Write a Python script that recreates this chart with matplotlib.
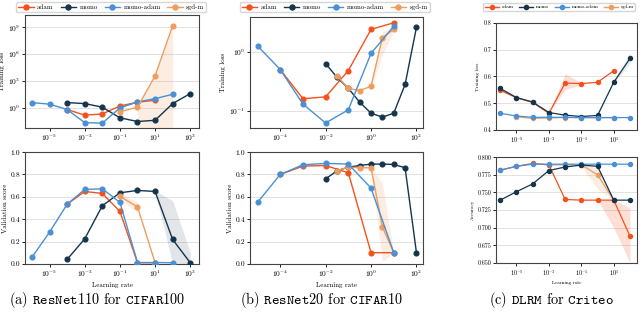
import numpy as np
import matplotlib
matplotlib.use("Agg")
import matplotlib.pyplot as plt
from matplotlib.lines import Line2D

plt.rcParams['font.family'] = 'cmr10'
plt.rcParams['mathtext.fontset'] = 'cm'
plt.rcParams['axes.formatter.use_mathtext'] = True

# colours per method
colors = {'adam': '#F4511E', 'momo': '#15354C', 'momo-adam': '#4A90D6', 'sgd-m': '#EE9D5E'}
methods = ['adam', 'momo', 'momo-adam', 'sgd-m']

# ---------------- (a) ResNet110 / CIFAR100 ----------------
a_lr_adam = [1e-4, 1e-3, 1e-2, 1e-1, 1, 10]
a_loss_adam = [0.6, 0.14, 0.19, 1.5, 4.0, 6.6]
a_val_adam = [0.534, 0.648, 0.63, 0.47, 0.01, 0.01]

a_lr_momo = [1e-4, 1e-3, 1e-2, 1e-1, 1, 10, 100, 1000]
a_loss_momo = [3.6, 2.8, 1.1, 0.07, 0.027, 0.037, 2.8, 37]
a_val_momo = [0.04, 0.224, 0.52, 0.636, 0.657, 0.648, 0.218, 0.01]

a_lr_madam = [1e-6, 1e-5, 1e-4, 1e-3, 1e-2, 1e-1, 1, 10, 100]
a_loss_madam = [3.6, 2.4, 0.6, 0.02, 0.018, 0.9, 4.3, 10, 31]
a_val_madam = [0.06, 0.284, 0.534, 0.666, 0.672, 0.55, 0.012, 0.012, 0.01]

a_lr_sgdm = [1e-1, 1, 10, 100]
a_loss_sgdm = [0.33, 1.1, 3600, 1.6e9]
a_val_sgdm = [0.603, 0.51, 0.01, np.nan]

# shaded spreads (a)
a_sh_loss_sgdm_x = [1, 10, 100]
a_sh_loss_sgdm_lo = [1e-3, 1e-3, 1e-3]
a_sh_loss_sgdm_hi = [1.1, 3600, 1.6e9]
a_sh_val_sgdm_x = [1e-1, 1]
a_sh_val_sgdm_lo = [0.57, 0.46]
a_sh_val_sgdm_hi = [0.63, 0.55]
a_sh_val_momo_x = [10, 100, 1000]
a_sh_val_momo_lo = [0.645, 0.0, 0.0]
a_sh_val_momo_hi = [0.655, 0.565, 0.1]

# ---------------- (b) ResNet20 / CIFAR10 ----------------
b_lr_adam = [1e-4, 1e-3, 1e-2, 1e-1, 1, 10]
b_loss_adam = [0.5, 0.16, 0.172, 0.48, 2.4, 3.1]
b_val_adam = [0.8, 0.875, 0.88, 0.815, 0.1, 0.1]

b_lr_momo = [0.01, 0.0316, 0.1, 0.316, 1, 3.16, 10, 31.6, 100]
b_loss_momo = [0.63, 0.37, 0.24, 0.14, 0.091, 0.078, 0.091, 0.28, 2.6]
b_val_momo = [0.76, 0.833, 0.866, 0.88, 0.893, 0.893, 0.89, 0.86, 0.1]

b_lr_madam = [1e-5, 1e-4, 1e-3, 1e-2, 1e-1, 1, 10]
b_loss_madam = [1.26, 0.5, 0.13, 0.062, 0.104, 0.94, 2.7]
b_val_madam = [0.55, 0.8, 0.887, 0.899, 0.893, 0.678, 0.1]

b_lr_sgdm = [0.0316, 0.1, 0.316, 1, 3.16, 10]
b_loss_sgdm = [0.39, 0.24, 0.22, 0.26, 1.74, 2.4]
b_val_sgdm = [0.833, 0.866, 0.86, 0.86, 0.33, 0.1]

b_sh_loss_sgdm_x = [1, 3.16, 10]
b_sh_loss_sgdm_lo = [0.24, 0.9, 2.2]
b_sh_loss_sgdm_hi = [0.3, 2.2, 2.6]
b_sh_val_sgdm_x = [1, 3.16, 10]
b_sh_val_sgdm_lo = [0.84, 0.02, 0.1]
b_sh_val_sgdm_hi = [0.87, 0.72, 0.1]

# ---------------- (c) DLRM / Criteo ----------------
c_lr = [1e-6, 1e-5, 1e-4, 1e-3, 1e-2, 1e-1, 1, 10, 100]
c_loss_adam = [0.548, 0.52, 0.503, 0.462, 0.575, 0.573, 0.578, 0.621, np.nan]
c_val_adam = [0.7815, 0.787, 0.791, 0.789, 0.740, 0.739, 0.739, 0.739, 0.688]
c_loss_momo = [0.555, 0.521, 0.504, 0.465, 0.455, 0.45, 0.454, 0.578, 0.667]
c_val_momo = [0.739, 0.751, 0.762, 0.781, 0.786, 0.7887, 0.787, 0.739, 0.739]
c_loss_madam = [0.462, 0.452, 0.447, 0.447, 0.447, 0.446, 0.446, 0.446, 0.446]
c_val_madam = [0.7815, 0.787, 0.79, 0.79, 0.79, 0.79, 0.79, 0.79, 0.79]
c_loss_sgdm = [np.nan, 0.449, 0.443, 0.445, 0.446, 0.446, 0.446, 0.446, np.nan]
c_val_sgdm = [np.nan, np.nan, np.nan, 0.789, 0.789, 0.789, 0.775, 0.739, np.nan]

c_sh_loss_adam_x = [1e-3, 1e-2, 1e-1]
c_sh_loss_adam_lo = [0.462, 0.55, 0.57]
c_sh_loss_adam_hi = [0.462, 0.61, 0.576]
c_sh_loss_momo_x = [10, 100]
c_sh_loss_momo_lo = [0.575, 0.65]
c_sh_loss_momo_hi = [0.58, 0.69]
c_sh_val_adam_x = [1, 10, 100]
c_sh_val_adam_lo = [0.739, 0.70, 0.65]
c_sh_val_adam_hi = [0.739, 0.74, 0.728]
c_sh_val_sgdm_x = [1e-1, 1, 10]
c_sh_val_sgdm_lo = [0.787, 0.755, 0.739]
c_sh_val_sgdm_hi = [0.79, 0.785, 0.739]

fig = plt.figure(figsize=(6.4, 3.13), dpi=100)


def style(ax, fs_tick):
    ax.set_xscale('log')
    ax.grid(True, axis='y', color='#dddddd', lw=0.6)
    ax.set_axisbelow(True)
    for s in ax.spines.values():
        s.set_color('#444444')
        s.set_linewidth(0.8)
    ax.tick_params(labelsize=fs_tick, length=2, width=0.6, pad=1.5)
    ax.minorticks_off()


def draw(ax, series, ms=3.4, lw=1.0):
    for name, x, y in series:
        ax.plot(x, y, color=colors[name], marker='o', ms=ms, lw=lw, zorder=3)


def shade(ax, x, lo, hi, name, alpha=0.18):
    ax.fill_between(x, lo, hi, color=colors[name], alpha=alpha, lw=0, zorder=1)


def add_legend(cx, cy, fs, ms, hl, cs):
    handles = [Line2D([], [], color=colors[m], marker='o', ms=ms, lw=1.0) for m in methods]
    fig.legend(handles, methods, loc='center', bbox_to_anchor=(cx, cy), ncol=4, fontsize=fs,
               frameon=True, edgecolor='#cccccc', handlelength=hl, columnspacing=cs,
               handletextpad=0.5, borderpad=0.3, fancybox=True)


lr_label = 'Learning rate'
fs_t = 5.4
fs_l = 5.0

# (a)
ax = fig.add_axes([0.039, 0.591, 0.272, 0.361])
style(ax, fs_t)
shade(ax, a_sh_loss_sgdm_x, a_sh_loss_sgdm_lo, a_sh_loss_sgdm_hi, 'sgd-m')
draw(ax, [('adam', a_lr_adam, a_loss_adam), ('momo', a_lr_momo, a_loss_momo),
          ('momo-adam', a_lr_madam, a_loss_madam), ('sgd-m', a_lr_sgdm, a_loss_sgdm)])
ax.set_yscale('log')
ax.set_ylim(10**-2.3, 10**10.4)
ax.set_yticks([1, 1e3, 1e6, 1e9])
ax.minorticks_off()
ax.set_xlim(10**-6.4, 10**3.5)
ax.set_xticks([1e-5, 1e-3, 1e-1, 1e1, 1e3])
ax.set_ylabel('Training loss', fontsize=fs_l, labelpad=2)

ax = fig.add_axes([0.039, 0.157, 0.272, 0.357])
style(ax, fs_t)
shade(ax, a_sh_val_sgdm_x, a_sh_val_sgdm_lo, a_sh_val_sgdm_hi, 'sgd-m')
shade(ax, a_sh_val_momo_x, a_sh_val_momo_lo, a_sh_val_momo_hi, 'momo', alpha=0.12)
draw(ax, [('adam', a_lr_adam, a_val_adam), ('momo', a_lr_momo, a_val_momo),
          ('sgd-m', a_lr_sgdm, a_val_sgdm), ('momo-adam', a_lr_madam, a_val_madam)])
ax.set_ylim(0, 1)
ax.set_yticks([0, 0.2, 0.4, 0.6, 0.8, 1.0])
ax.set_yticklabels(['0.0', '0.2', '0.4', '0.6', '0.8', '1.0'])
ax.set_xlim(10**-6.4, 10**3.5)
ax.set_xticks([1e-5, 1e-3, 1e-1, 1e1, 1e3])
ax.set_ylabel('Validation score', fontsize=fs_l, labelpad=2)
ax.set_xlabel(lr_label, fontsize=fs_l, labelpad=2)

# (b)
ax = fig.add_axes([0.391, 0.591, 0.270, 0.355])
style(ax, fs_t)
shade(ax, b_sh_loss_sgdm_x, b_sh_loss_sgdm_lo, b_sh_loss_sgdm_hi, 'sgd-m')
draw(ax, [('adam', b_lr_adam, b_loss_adam), ('momo', b_lr_momo, b_loss_momo),
          ('sgd-m', b_lr_sgdm, b_loss_sgdm), ('momo-adam', b_lr_madam, b_loss_madam)])
ax.set_yscale('log')
ax.set_ylim(0.051, 3.9)
ax.set_yticks([0.1, 1])
ax.minorticks_off()
ax.set_xlim(10**-5.32, 10**2.29)
ax.set_xticks([1e-4, 1e-2, 1, 1e2])
ax.set_ylabel('Training loss', fontsize=fs_l, labelpad=2)

ax = fig.add_axes([0.391, 0.157, 0.270, 0.357])
style(ax, fs_t)
shade(ax, b_sh_val_sgdm_x, b_sh_val_sgdm_lo, b_sh_val_sgdm_hi, 'sgd-m')
draw(ax, [('adam', b_lr_adam, b_val_adam), ('momo', b_lr_momo, b_val_momo),
          ('sgd-m', b_lr_sgdm, b_val_sgdm), ('momo-adam', b_lr_madam, b_val_madam)])
ax.set_ylim(0, 1)
ax.set_yticks([0, 0.2, 0.4, 0.6, 0.8, 1.0])
ax.set_yticklabels(['0.0', '0.2', '0.4', '0.6', '0.8', '1.0'])
ax.set_xlim(10**-5.32, 10**2.29)
ax.set_xticks([1e-4, 1e-2, 1, 1e2])
ax.set_ylabel('Validation score', fontsize=fs_l, labelpad=2)
ax.set_xlabel(lr_label, fontsize=fs_l, labelpad=2)

# (c)
ax = fig.add_axes([0.775, 0.585, 0.220, 0.342])
style(ax, 4.4)
shade(ax, c_sh_loss_adam_x, c_sh_loss_adam_lo, c_sh_loss_adam_hi, 'adam')
shade(ax, c_sh_loss_momo_x, c_sh_loss_momo_lo, c_sh_loss_momo_hi, 'momo', alpha=0.1)
draw(ax, [('sgd-m', c_lr, c_loss_sgdm), ('adam', c_lr, c_loss_adam),
          ('momo', c_lr, c_loss_momo), ('momo-adam', c_lr, c_loss_madam)], ms=2.9, lw=0.9)
ax.set_ylim(0.4, 0.8)
ax.set_yticks([0.4, 0.5, 0.6, 0.7, 0.8])
ax.set_yticklabels(['0.4', '0.5', '0.6', '0.7', '0.8'])
ax.set_xlim(10**-6.26, 10**2.42)
ax.set_xticks([1e-5, 1e-3, 1e-1, 1e1])
ax.set_ylabel('Training loss', fontsize=3.6, labelpad=2)

ax = fig.add_axes([0.775, 0.160, 0.220, 0.338])
style(ax, 4.4)
shade(ax, c_sh_val_adam_x, c_sh_val_adam_lo, c_sh_val_adam_hi, 'adam')
shade(ax, c_sh_val_sgdm_x, c_sh_val_sgdm_lo, c_sh_val_sgdm_hi, 'sgd-m')
draw(ax, [('sgd-m', c_lr, c_val_sgdm), ('adam', c_lr, c_val_adam),
          ('momo-adam', c_lr, c_val_madam), ('momo', c_lr, c_val_momo)], ms=2.9, lw=0.9)
ax.set_ylim(0.65, 0.8)
ax.set_yticks([0.65, 0.675, 0.7, 0.725, 0.75, 0.775, 0.8])
ax.set_yticklabels(['0.650', '0.675', '0.700', '0.725', '0.750', '0.775', '0.800'])
ax.set_xlim(10**-6.26, 10**2.42)
ax.set_xticks([1e-5, 1e-3, 1e-1, 1e1])
ax.set_ylabel('Accuracy', fontsize=3.6, labelpad=2)
ax.set_xlabel(lr_label, fontsize=3.6, labelpad=2)

# legends
add_legend(0.174, 0.977, 5.0, 3.6, 2.2, 1.0)
add_legend(0.523, 0.977, 5.0, 3.6, 2.2, 1.0)
add_legend(0.874, 0.977, 3.6, 3.0, 2.8, 1.2)

# captions
fig.text(0.152, 0.042, r'(a) $\mathtt{ResNet110}$ for $\mathtt{CIFAR100}$', ha='center', va='center', fontsize=10.3)
fig.text(0.503, 0.042, r'(b) $\mathtt{ResNet20}$ for $\mathtt{CIFAR10}$', ha='center', va='center', fontsize=10.3)
fig.text(0.8625, 0.042, r'(c) $\mathtt{DLRM}$ for $\mathtt{Criteo}$', ha='center', va='center', fontsize=10.3)

fig.savefig('out.png', dpi=100)
